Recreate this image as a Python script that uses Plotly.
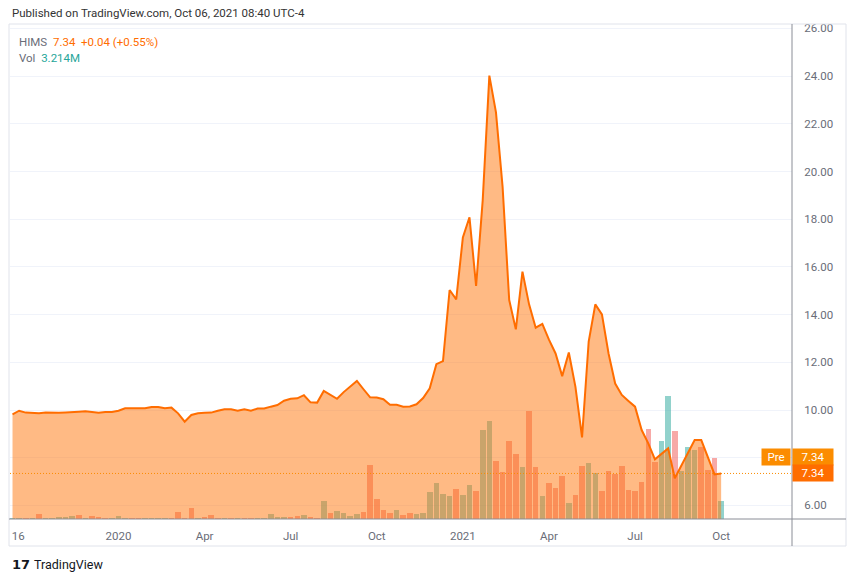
import pandas as pd
import plotly.graph_objects as go

# ---------------- data (weekly bars) ----------------
start_week = "2019-09-16"
n_weeks = 108

price = [9.82, 9.97, 9.89, 9.87, 9.86, 9.89, 9.88, 9.88, 9.90, 9.93,
         9.93, 9.95, 9.92, 9.89, 9.92, 9.92, 9.97, 10.07, 10.07, 10.07,
         10.07, 10.13, 10.13, 10.07, 10.10, 9.86, 9.51, 9.79, 9.86, 9.88,
         9.89, 9.97, 10.03, 10.03, 9.97, 10.03, 9.97, 10.06, 10.06, 10.14,
         10.21, 10.39, 10.47, 10.49, 10.62, 10.32, 10.31, 10.80, 10.62, 10.47,
         10.75, 10.99, 11.22, 10.87, 10.53, 10.52, 10.45, 10.22, 10.22, 10.14,
         10.15, 10.24, 10.50, 10.91, 11.92, 12.05, 15.03, 14.64, 17.23, 18.08,
         15.20, 18.80, 24.02, 22.48, 19.36, 14.61, 13.38, 15.80, 14.43, 13.45,
         13.61, 12.95, 12.37, 11.42, 12.41, 10.97, 8.85, 12.87, 14.43, 14.01,
         12.37, 11.11, 10.63, 10.38, 10.14, 9.16, 8.60, 7.93, 8.18, 8.39,
         7.14, 7.69, 8.25, 8.74, 8.74, 8.04, 7.30, 7.34]

volume_m = [0.18, 0.18, 0.18, 0.18, 0.89, 0.18, 0.18, 0.36, 0.36, 0.54,
            0.71, 0.18, 0.54, 0.36, 0.18, 0.18, 0.54, 0.18, 0.18, 0.18,
            0.18, 0.18, 0.18, 0.18, 0.18, 1.25, 0.18, 1.96, 0.18, 0.36,
            0.71, 0.18, 0.18, 0.18, 0.18, 0.18, 0.18, 0.18, 0.18, 0.89,
            0.36, 0.36, 0.36, 0.54, 0.71, 0.36, 0.18, 3.21, 1.07, 1.43,
            1.07, 0.54, 0.89, 1.25, 9.64, 3.57, 1.61, 1.07, 1.61, 0.71,
            1.07, 0.89, 1.07, 4.82, 6.43, 4.46, 4.11, 5.36, 4.29, 6.07,
            5.00, 15.89, 17.50, 10.36, 8.39, 13.93, 11.61, 9.29, 19.29, 9.29,
            4.11, 6.43, 5.54, 7.68, 2.86, 4.29, 9.46, 10.00, 8.21, 5.00,
            8.57, 8.04, 9.46, 5.18, 5.00, 6.61, 16.07, 10.18, 13.93, 21.96,
            15.71, 8.57, 12.86, 12.32, 12.86, 8.75, 10.89, 3.214]

# u = up week (teal), d = down week (red)
vol_dir = ("uududuuuuu" "duddduuudd" "uuuuddddud" "ddududduuu" "uudduddudu"
           "uuudddddud" "duuuuuuduu" "duuddddudd" "udddudduud" "dddddddduu"
           "duuudddu")

x_tick_dates = ["2019-09-22", "2020-01-06", "2020-04-06", "2020-07-06", "2020-10-05",
                "2021-01-04", "2021-04-05", "2021-07-05", "2021-10-04"]
x_tick_labels = ["16", "2020", "Apr", "Jul", "Oct", "2021", "Apr", "Jul", "Oct"]
price_ticks = [6, 8, 10, 12, 14, 16, 18, 20, 22, 24, 26]
hidden_price_ticks = [8]

symbol = "HIMS"
change = "+0.04 (+0.55%)"
vol_label = "3.214M"

# ---------------- layout helpers (pixels -> paper) ----------------
W, H = 852, 582
L, R, T, B = 10, 792, 24, 519


def px(X):
    return (X - L) / (R - L)


def py(Y):
    return (B - Y) / (B - T)


dates = pd.date_range(start_week, periods=n_weeks, freq="7D")
week = pd.Timedelta(days=7)
x_range = [dates[0] - 0.38 * week, dates[0] + 117.7 * week]

UP = "rgba(38,166,154,0.5)"
DN = "rgba(239,83,80,0.5)"
bar_colors = [UP if c == "u" else DN for c in vol_dir]

LINE = "#ff6d00"
FONT = "Roboto"
GRAY = "#6a6d78"

fig = go.Figure()

fig.add_trace(go.Bar(
    x=dates, y=volume_m, marker=dict(color=bar_colors, line=dict(width=0)),
    width=0.84 * 7 * 24 * 3600 * 1000, xaxis="x", yaxis="y",
    hoverinfo="skip", showlegend=False))

fig.add_trace(go.Scatter(
    x=dates, y=price, mode="lines", line=dict(color=LINE, width=2),
    fill="tozeroy", fillcolor="rgba(255,118,10,0.5)",
    xaxis="x", yaxis="y2", hoverinfo="skip", showlegend=False))

vol_top = (B - T) * 3.214 / 18.0
price_lo = 10 + (410 - B) / 23.85
price_hi = 10 + (410 - T) / 23.85

fig.update_layout(
    width=W, height=H,
    margin=dict(l=L, r=W - R, t=T, b=H - B, pad=0),
    paper_bgcolor="white", plot_bgcolor="white",
    font=dict(family=FONT, size=11, color=GRAY),
    showlegend=False, hovermode=False, bargap=0,
    xaxis=dict(type="date", range=x_range, tickvals=x_tick_dates, ticktext=x_tick_labels,
               showgrid=False, zeroline=False, showline=False,
               ticks="outside", ticklen=6, tickcolor="rgba(0,0,0,0)",
               tickfont=dict(size=11.5, color=GRAY, family=FONT)),
    yaxis=dict(range=[0, vol_top], visible=False, showgrid=False, zeroline=False),
    yaxis2=dict(range=[price_lo, price_hi], overlaying="y", side="right",
                tickvals=price_ticks,
                ticktext=["" if v in hidden_price_ticks else f"{v:.2f}" for v in price_ticks],
                showgrid=True, gridcolor="#f0f3fa", gridwidth=1, zeroline=False,
                showline=False, ticks="outside", ticklen=9, tickcolor="rgba(0,0,0,0)",
                tickfont=dict(size=11.5, color=GRAY, family=FONT)),
)

shapes = []
# chart frame
shapes.append(dict(type="rect", xref="paper", yref="paper", x0=px(9), x1=px(846),
                   y0=py(546), y1=py(T), line=dict(color="#e0e3eb", width=1),
                   fillcolor="rgba(0,0,0,0)", layer="above"))
# time axis line and price axis line
shapes.append(dict(type="line", xref="paper", yref="paper", x0=px(9), x1=px(846),
                   y0=0, y1=0, line=dict(color="#8a8d96", width=1), layer="above"))
shapes.append(dict(type="line", xref="paper", yref="paper", x0=1, x1=1,
                   y0=py(546), y1=1, line=dict(color="#8a8d96", width=1), layer="above"))
# last price dotted line
shapes.append(dict(type="line", xref="paper", yref="y2", x0=0, x1=1,
                   y0=price[-1], y1=price[-1],
                   line=dict(color="#fb8c00", width=1, dash="1px,2px"), layer="above"))
fig.update_layout(shapes=shapes)

last = f"{price[-1]:.2f}"
ann = [
    dict(text="Published on TradingView.com, Oct 06, 2021 08:40 UTC-4",
         x=px(10), y=py(13), xref="paper", yref="paper", xanchor="left", yanchor="middle",
         showarrow=False, font=dict(size=11.5, color="#333333", family=FONT)),
    dict(text=f"<span style='color:{GRAY}'>{symbol}</span>  "
              f"<span style='color:#ff6d00'>{last}  {change}</span>",
         x=px(17), y=py(42), xref="paper", yref="paper", xanchor="left", yanchor="middle",
         showarrow=False, font=dict(size=11.5, family=FONT)),
    dict(text=f"<span style='color:{GRAY}'>Vol</span>  "
              f"<span style='color:#26a69a'>{vol_label}</span>",
         x=px(17), y=py(58), xref="paper", yref="paper", xanchor="left", yanchor="middle",
         showarrow=False, font=dict(size=11.5, family=FONT)),
    # price tags
    dict(text="Pre", x=px(776), y=price[-1], yshift=16, xref="paper", yref="y2",
         xanchor="center", yanchor="middle", showarrow=False, bgcolor="#fb8c00",
         width=26, height=14, borderpad=1, font=dict(size=11.5, color="white", family=FONT)),
    dict(text=last, x=px(813), y=price[-1], yshift=16, xref="paper", yref="y2",
         xanchor="center", yanchor="middle", showarrow=False, bgcolor="#fb8c00",
         width=38, height=14, borderpad=1, font=dict(size=11.5, color="white", family=FONT)),
    dict(text=last, x=px(813), y=price[-1], xref="paper", yref="y2",
         xanchor="center", yanchor="middle", showarrow=False, bgcolor="#ff6d00",
         width=38, height=14, borderpad=1, font=dict(size=11.5, color="white", family=FONT)),
    # footer logo
    dict(text="<b>17</b>", x=px(10), y=py(564), xref="paper", yref="paper",
         xanchor="left", yanchor="middle", showarrow=False,
         font=dict(size=13, color="#131722", family="DejaVu Sans")),
    dict(text="TradingView", x=px(32), y=py(564), xref="paper", yref="paper",
         xanchor="left", yanchor="middle", showarrow=False,
         font=dict(size=12.5, color="#131722", family=FONT)),
]
fig.update_layout(annotations=ann)

fig.write_html("out.html")
